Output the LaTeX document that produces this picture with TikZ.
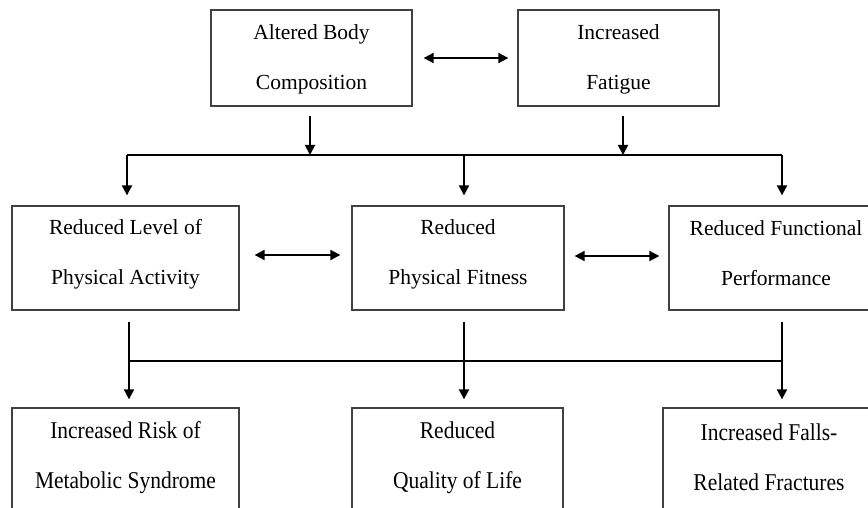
\documentclass[tikz,border=0pt]{standalone}
\usepackage{fontspec}
\setmainfont{Liberation Serif}
\usetikzlibrary{arrows.meta}
\begin{document}
\begin{tikzpicture}[x=1pt,y=-1pt,
  box/.style={draw=black!75, line width=1.3pt, inner sep=0pt, fill=none},
  txt/.style={align=center, inner sep=0pt, font=\fontsize{21.5}{50}\selectfont},
  link/.style={line width=1.9pt, black},
  arr/.style={link, -{Triangle[length=10pt,width=10pt]}},
  dbl/.style={link, {Triangle[length=10pt,width=10pt]}-{Triangle[length=10pt,width=10pt]}}
]
\useasboundingbox (0,0) rectangle (868,508);
\clip (0,0) rectangle (868,508);

% boxes
\node[box, minimum width=201pt, minimum height=96pt]  (a)  at (311.5,58) {};
\node[box, minimum width=201pt, minimum height=96pt]  (f)  at (618.5,58) {};
\node[box, minimum width=227pt, minimum height=104pt] (m1) at (125.5,258) {};
\node[box, minimum width=212pt, minimum height=104pt] (m2) at (458,258) {};
\node[box, minimum width=214pt, minimum height=104pt] (m3) at (776,258) {};
\node[box, minimum width=227pt, minimum height=107pt] (b1) at (125.5,461.5) {};
\node[box, minimum width=211pt, minimum height=107pt] (b2) at (457.5,461.5) {};
\node[box, minimum width=212pt, minimum height=107pt] (b3) at (769,461.5) {};

% texts
\node[txt] (ta)  at (311.5,59)  {Altered Body\\Composition};
\node[txt] (tf)  at (618.5,59)  {Increased\\Fatigue};
\node[txt] (tm1) at (125.5,254) {Reduced Level of\\Physical Activity};
\node[txt] (tm2) at (458,254)   {Reduced\\Physical Fitness};
\node[txt] (tm3) at (776,253)   {Reduced Functional\\Performance};
\node[txt] (tb1) at (125.5,458) {\scalebox{1}[1.12]{Increased Risk of}\\\scalebox{1}[1.12]{Metabolic Syndrome}};
\node[txt] (tb2) at (457.5,458) {\scalebox{1}[1.12]{Reduced}\\\scalebox{1}[1.12]{Quality of Life}};
\node[txt] (tb3) at (769,457)   {\scalebox{1}[1.12]{Increased Falls-}\\\scalebox{1}[1.12]{Related Fractures}};

% junction coordinates
\coordinate (h1l) at (127,155);
\coordinate (h1a) at (310,155);
\coordinate (h1m) at (464,155);
\coordinate (h1f) at (623,155);
\coordinate (h1r) at (782,155);
\coordinate (h2l) at (129,361);
\coordinate (h2m) at (464,361);
\coordinate (h2r) at (782,361);

% top row
\draw[dbl] ([xshift=11pt]a.east) -- ([xshift=-9pt]f.west);
\draw[arr] ([yshift=-9pt]a.south -| h1a) -- (h1a);
\draw[arr] ([yshift=-9pt]f.south -| h1f) -- (h1f);
\draw[link] (h1l) -- (h1r);
\draw[arr] (h1l) -- ([yshift=10pt]h1l |- m1.north);
\draw[arr] (h1m) -- ([yshift=10pt]h1m |- m2.north);
\draw[arr] (h1r) -- ([yshift=10pt]h1r |- m3.north);

% middle row
\draw[dbl] ([xshift=15pt]m1.east |- 0,255) -- ([xshift=-11pt]m2.west |- 0,255);
\draw[dbl] ([xshift=10pt]m2.east |- 0,256) -- ([xshift=-9pt]m3.west |- 0,256);

% lower connectors
\draw[link] ([yshift=-11pt]h2l |- m1.south) -- (h2l);
\draw[link] ([yshift=-11pt]h2r |- m3.south) -- (h2r);
\draw[link] (h2l) -- (h2r);
\draw[arr] (h2l) -- ([yshift=8pt]h2l |- b1.north);
\draw[arr] ([yshift=-11pt]h2m |- m2.south) -- ([yshift=8pt]h2m |- b2.north);
\draw[arr] (h2r) -- ([yshift=8pt]h2r |- b3.north);
\end{tikzpicture}
\end{document}
